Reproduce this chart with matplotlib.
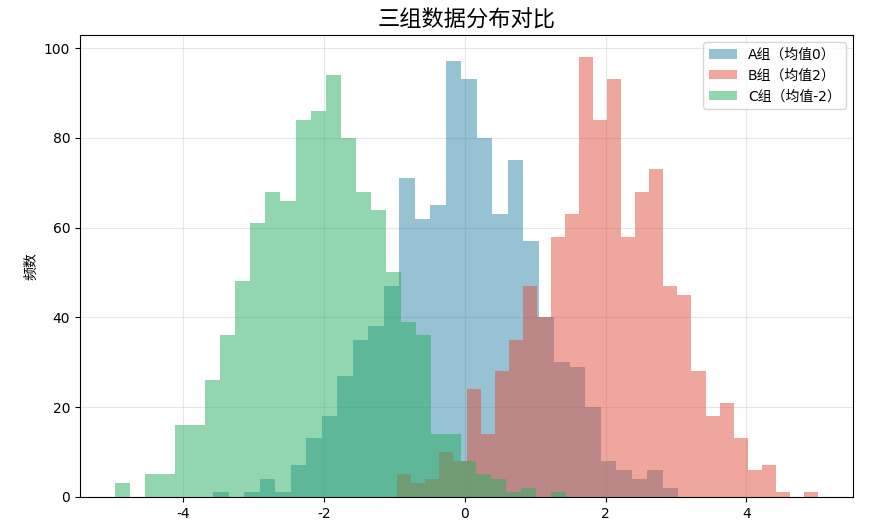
import numpy as np
import matplotlib
matplotlib.use("Agg")
import matplotlib.pyplot as plt

plt.rcParams['font.family'] = ['DejaVu Sans', 'Noto Sans CJK SC']
plt.rcParams['axes.unicode_minus'] = False

# Histogram counts (30 bins each)
labels = ['A组（均值0）', 'B组（均值2）', 'C组（均值-2）']
a_range = (-3.573, 3.031)
a_counts = [1, 0, 1, 4, 1, 7, 13, 18, 27, 35, 38, 47, 71, 62, 65,
            97, 93, 80, 63, 75, 57, 40, 30, 29, 20, 8, 6, 4, 6, 2]
b_range = (-0.969, 5.018)
b_counts = [5, 3, 4, 10, 8, 24, 14, 28, 35, 47, 40, 58, 63, 98, 84,
            93, 58, 68, 73, 47, 45, 28, 18, 21, 13, 6, 7, 1, 0, 1]
c_range = (-4.969, 1.440)
c_counts = [3, 0, 5, 5, 16, 16, 26, 36, 48, 61, 68, 66, 84, 86, 94,
            80, 68, 64, 50, 39, 36, 14, 14, 8, 5, 4, 1, 2, 0, 1]
colors = ['#2E86AB', '#E0503C', '#27AE60']

fig = plt.figure(figsize=(8.8, 5.25), dpi=100)
ax = fig.add_axes([80/880, 1-496.8/525, (853-80)/880, (496.8-35)/525])

for rng, cnt, col, lab in zip([a_range, b_range, c_range],
                              [a_counts, b_counts, c_counts], colors, labels):
    edges = np.linspace(rng[0], rng[1], len(cnt) + 1)
    ax.hist(edges[:-1], bins=edges, weights=cnt, alpha=0.5, color=col, label=lab)

ax.set_title('三组数据分布对比', fontsize=16, pad=6)
ax.set_ylabel('频数', fontsize=10)
ax.legend(loc='upper right', fontsize=10)
ax.grid(True, alpha=0.3)
ax.set_axisbelow(True)
ax.set_xticks([-4, -2, 0, 2, 4])

fig.savefig('out.png', dpi=100)
